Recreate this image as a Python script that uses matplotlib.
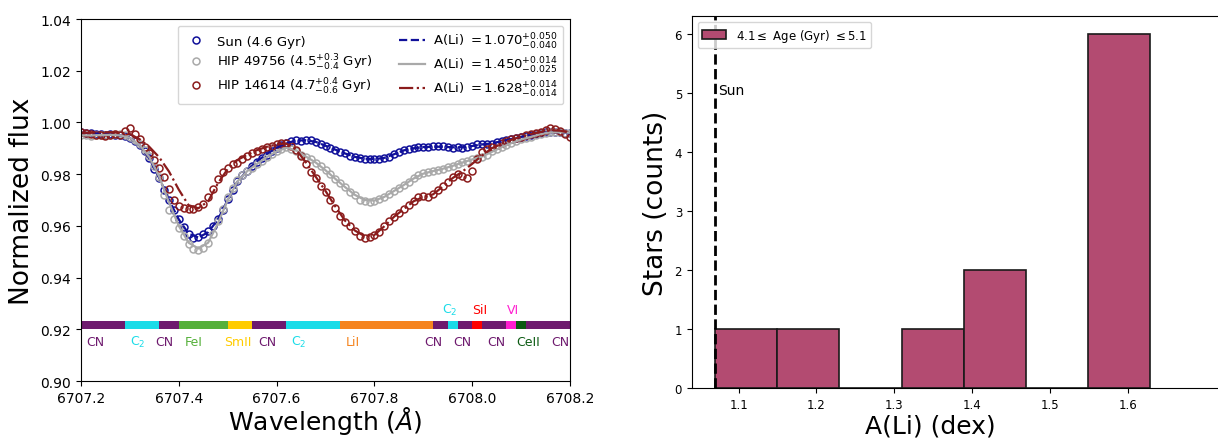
import numpy as np
import matplotlib.pyplot as plt
from matplotlib.ticker import FormatStrFormatter

# ---- spectra (observed points every 0.01 A, models every 0.02 A) ----
wave_start = 6707.20
sun_obs = [0.9962, 0.9960, 0.9958, 0.9955, 0.9957, 0.9953, 0.9955, 0.9952, 0.9950, 0.9948,
           0.9940, 0.9928, 0.9912, 0.9888, 0.9862, 0.9820, 0.9785, 0.9740, 0.9700, 0.9660,
           0.9628, 0.9596, 0.9568, 0.9555, 0.9558, 0.9568, 0.9580, 0.9600, 0.9628, 0.9662,
           0.9705, 0.9740, 0.9772, 0.9795, 0.9812, 0.9832, 0.9848, 0.9862, 0.9876, 0.9889,
           0.9900, 0.9912, 0.9922, 0.9928, 0.9931, 0.9930, 0.9933, 0.9931, 0.9925, 0.9916,
           0.9910, 0.9903, 0.9895, 0.9887, 0.9880, 0.9872, 0.9867, 0.9862, 0.9860, 0.9857,
           0.9858, 0.9860, 0.9863, 0.9868, 0.9878, 0.9887, 0.9893, 0.9898, 0.9902, 0.9905,
           0.9906, 0.9904, 0.9907, 0.9908, 0.9907, 0.9905, 0.9903, 0.9904, 0.9903, 0.9906,
           0.9910, 0.9915, 0.9917, 0.9915, 0.9918, 0.9923, 0.9928, 0.9932, 0.9936, 0.9940,
           0.9944, 0.9948, 0.9952, 0.9955, 0.9958, 0.9962, 0.9964, 0.9963, 0.9962, 0.9960,
           0.9958]
hip49756_obs = [0.9950, 0.9950, 0.9948, 0.9951, 0.9950, 0.9952, 0.9953, 0.9955, 0.9955, 0.9950,
                0.9943, 0.9932, 0.9915, 0.9892, 0.9872, 0.9830, 0.9790, 0.9720, 0.9660, 0.9625,
                0.9590, 0.9560, 0.9530, 0.9512, 0.9508, 0.9515, 0.9535, 0.9570, 0.9620, 0.9665,
                0.9710, 0.9748, 0.9778, 0.9795, 0.9812, 0.9825, 0.9838, 0.9852, 0.9866, 0.9878,
                0.9888, 0.9898, 0.9904, 0.9898, 0.9888, 0.9876, 0.9866, 0.9858, 0.9845, 0.9830,
                0.9815, 0.9800, 0.9782, 0.9765, 0.9750, 0.9732, 0.9718, 0.9702, 0.9695, 0.9692,
                0.9698, 0.9703, 0.9712, 0.9725, 0.9735, 0.9748, 0.9758, 0.9770, 0.9785, 0.9795,
                0.9805, 0.9807, 0.9812, 0.9818, 0.9820, 0.9826, 0.9832, 0.9840, 0.9846, 0.9852,
                0.9858, 0.9862, 0.9868, 0.9876, 0.9888, 0.9897, 0.9905, 0.9914, 0.9921, 0.9928,
                0.9935, 0.9940, 0.9944, 0.9950, 0.9956, 0.9961, 0.9963, 0.9962, 0.9963, 0.9961,
                0.9960]
hip14614_obs = [0.9962, 0.9958, 0.9955, 0.9952, 0.9950, 0.9948, 0.9952, 0.9955, 0.9950, 0.9965,
                0.9977, 0.9955, 0.9935, 0.9905, 0.9880, 0.9855, 0.9825, 0.9790, 0.9742, 0.9700,
                0.9675, 0.9668, 0.9665, 0.9667, 0.9672, 0.9685, 0.9712, 0.9742, 0.9780, 0.9808,
                0.9825, 0.9840, 0.9845, 0.9860, 0.9870, 0.9880, 0.9890, 0.9898, 0.9905, 0.9910,
                0.9915, 0.9920, 0.9922, 0.9910, 0.9893, 0.9870, 0.9840, 0.9810, 0.9785, 0.9755,
                0.9730, 0.9700, 0.9668, 0.9640, 0.9615, 0.9600, 0.9580, 0.9562, 0.9555, 0.9558,
                0.9565, 0.9575, 0.9600, 0.9620, 0.9635, 0.9650, 0.9665, 0.9680, 0.9698, 0.9712,
                0.9715, 0.9710, 0.9722, 0.9740, 0.9755, 0.9770, 0.9788, 0.9800, 0.9792, 0.9785,
                0.9812, 0.9860, 0.9885, 0.9898, 0.9905, 0.9912, 0.9920, 0.9930, 0.9935, 0.9940,
                0.9945, 0.9950, 0.9955, 0.9958, 0.9962, 0.9970, 0.9978, 0.9975, 0.9965, 0.9955,
                0.9945]

sun_model = [0.9960, 0.9958, 0.9956, 0.9954, 0.9950, 0.9940, 0.9912, 0.9860, 0.9785, 0.9700,
             0.9625, 0.9570, 0.9555, 0.9575, 0.9625, 0.9700, 0.9770, 0.9815, 0.9850, 0.9878,
             0.9902, 0.9920, 0.9930, 0.9931, 0.9925, 0.9910, 0.9895, 0.9880, 0.9867, 0.9860,
             0.9858, 0.9863, 0.9877, 0.9892, 0.9900, 0.9905, 0.9906, 0.9906, 0.9904, 0.9904,
             0.9909, 0.9915, 0.9919, 0.9927, 0.9936, 0.9944, 0.9952, 0.9958, 0.9963, 0.9962,
             0.9958]
hip49756_model = [0.9950, 0.9950, 0.9951, 0.9952, 0.9950, 0.9940, 0.9912, 0.9865, 0.9790, 0.9690,
                  0.9600, 0.9535, 0.9512, 0.9535, 0.9610, 0.9700, 0.9772, 0.9812, 0.9840, 0.9866,
                  0.9888, 0.9902, 0.9892, 0.9868, 0.9845, 0.9815, 0.9782, 0.9750, 0.9720, 0.9700,
                  0.9698, 0.9712, 0.9735, 0.9758, 0.9783, 0.9802, 0.9812, 0.9821, 0.9832, 0.9845,
                  0.9857, 0.9868, 0.9886, 0.9904, 0.9920, 0.9934, 0.9944, 0.9955, 0.9962, 0.9962,
                  0.9960]
hip14614_model = [0.9960, 0.9960, 0.9962, 0.9962, 0.9960, 0.9955, 0.9935, 0.9905, 0.9865, 0.9810,
                  0.9740, 0.9680, 0.9668, 0.9695, 0.9765, 0.9820, 0.9855, 0.9875, 0.9893, 0.9906,
                  0.9915, 0.9918, 0.9895, 0.9845, 0.9790, 0.9735, 0.9675, 0.9620, 0.9582, 0.9560,
                  0.9565, 0.9598, 0.9635, 0.9665, 0.9695, 0.9712, 0.9722, 0.9752, 0.9785, 0.9810,
                  0.9840, 0.9872, 0.9900, 0.9918, 0.9933, 0.9945, 0.9955, 0.9963, 0.9970, 0.9968,
                  0.9960]

wave_obs = wave_start + 0.01 * np.arange(len(sun_obs))
wave_mod = wave_start + 0.02 * np.arange(len(sun_model))

# ---- line identification band ----
band_edges = [6707.20, 6707.29, 6707.36, 6707.40, 6707.50, 6707.55, 6707.62, 6707.73,
              6707.92, 6707.95, 6707.97, 6708.00, 6708.02, 6708.07, 6708.09, 6708.11, 6708.20]
band_species = ['CN', 'C2', 'CN', 'FeI', 'SmII', 'CN', 'C2', 'LiI',
                'CN', 'C2', 'CN', 'SiI', 'CN', 'VI', 'CeII', 'CN']
species_color = {'CN': '#6e1a6e', 'C2': '#1adce8', 'FeI': '#55b03a', 'SmII': '#ffcc00',
                 'LiI': '#f5841f', 'SiI': '#ff0000', 'VI': '#ff1fd0', 'CeII': '#0b5a12'}
label_below = [('CN', 6707.23), ('C2', 6707.316), ('CN', 6707.37), ('FeI', 6707.43),
               ('SmII', 6707.52), ('CN', 6707.58), ('C2', 6707.646), ('LiI', 6707.756),
               ('CN', 6707.92), ('CN', 6707.98), ('CN', 6708.05), ('CeII', 6708.115),
               ('CN', 6708.18)]
label_above = [('C2', 6707.955), ('SiI', 6708.016), ('VI', 6708.083)]
label_text = {'CN': 'CN', 'C2': 'C$_2$', 'FeI': 'FeI', 'SmII': 'SmII', 'LiI': 'LiI',
              'SiI': 'SiI', 'VI': 'VI', 'CeII': 'CeII'}

# ---- histogram of A(Li) for solar-age stars ----
ali_values = [1.07, 1.19, 1.35, 1.41, 1.45, 1.56, 1.58, 1.60, 1.61, 1.62, 1.628]
ali_sun = 1.07

fig = plt.figure(figsize=(12.18, 4.39), dpi=100)
ax1 = fig.add_axes([0.0665, 0.1298, 0.4015, 0.8246])
ax2 = fig.add_axes([0.568, 0.1139, 0.435, 0.8474])

c_sun, c_gray, c_red = '#10109a', '#a9a9a9', '#8b1c1c'
ms = 5
ax1.plot(wave_obs, sun_obs, 'o', mfc='none', mec=c_sun, ms=ms, mew=1.1, label='Sun (4.6 Gyr)')
ax1.plot(wave_obs, hip49756_obs, 'o', mfc='none', mec=c_gray, ms=ms, mew=1.1,
         label='HIP 49756 (4.5$^{+0.3}_{-0.4}$ Gyr)')
ax1.plot(wave_obs, hip14614_obs, 'o', mfc='none', mec=c_red, ms=ms, mew=1.1,
         label='HIP 14614 (4.7$^{+0.4}_{-0.6}$ Gyr)')
ax1.plot(wave_mod, sun_model, '--', color=c_sun, lw=1.6, label='A(Li) $=1.070^{+0.050}_{-0.040}$')
ax1.plot(wave_mod, hip49756_model, '-', color=c_gray, lw=1.6, label='A(Li) $=1.450^{+0.014}_{-0.025}$')
ax1.plot(wave_mod, hip14614_model, '-.', color=c_red, lw=1.6, label='A(Li) $=1.628^{+0.014}_{-0.014}$')

for i, sp in enumerate(band_species):
    ax1.broken_barh([(band_edges[i], band_edges[i + 1] - band_edges[i])], (0.920, 0.0032),
                    facecolors=species_color[sp])
for sp, x in label_below:
    ax1.text(x, 0.9152, label_text[sp], color=species_color[sp], fontsize=9, ha='center', va='center')
for sp, x in label_above:
    ax1.text(x, 0.9278, label_text[sp], color=species_color[sp], fontsize=9, ha='center', va='center')

ax1.set_xlim(6707.2, 6708.2)
ax1.set_ylim(0.90, 1.04)
ax1.set_xticks(np.arange(6707.2, 6708.21, 0.2))
ax1.xaxis.set_major_formatter(FormatStrFormatter('%.1f'))
ax1.set_yticks(np.arange(0.90, 1.041, 0.02))
ax1.tick_params(labelsize=10)
ax1.set_xlabel('Wavelength ($\\AA$)', fontsize=18, labelpad=-0.5)
ax1.set_ylabel('Normalized flux', fontsize=19)
ax1.legend(ncol=2, fontsize=9.5, loc='upper right', labelspacing=0.3, handletextpad=0.6)

bins = np.linspace(min(ali_values), max(ali_values), 8)
ax2.hist(ali_values, bins=bins, color='#b34b71', edgecolor='#1a1a1a', lw=1.2,
         label='4.1$\\leq$ Age (Gyr) $\\leq$5.1')
ax2.axvline(ali_sun, color='k', ls='--', lw=2)
ax2.text(ali_sun + 0.004, 5.05, 'Sun', fontsize=10, va='center')
ax2.set_xlim(1.04, 1.72)
ax2.set_ylim(0, 6.3)
ax2.set_xticks([1.1, 1.2, 1.3, 1.4, 1.5, 1.6])
ax2.tick_params(labelsize=8.5)
ax2.set_xlabel('A(Li) (dex)', fontsize=18)
ax2.xaxis.set_label_coords(0.451, -0.068, transform=ax2.transAxes)
ax2.xaxis.label.set_va('top')
ax2.set_ylabel('Stars (counts)', fontsize=19)
ax2.legend(loc='upper left', fontsize=8.5)

fig.savefig('out.png', dpi=100)
